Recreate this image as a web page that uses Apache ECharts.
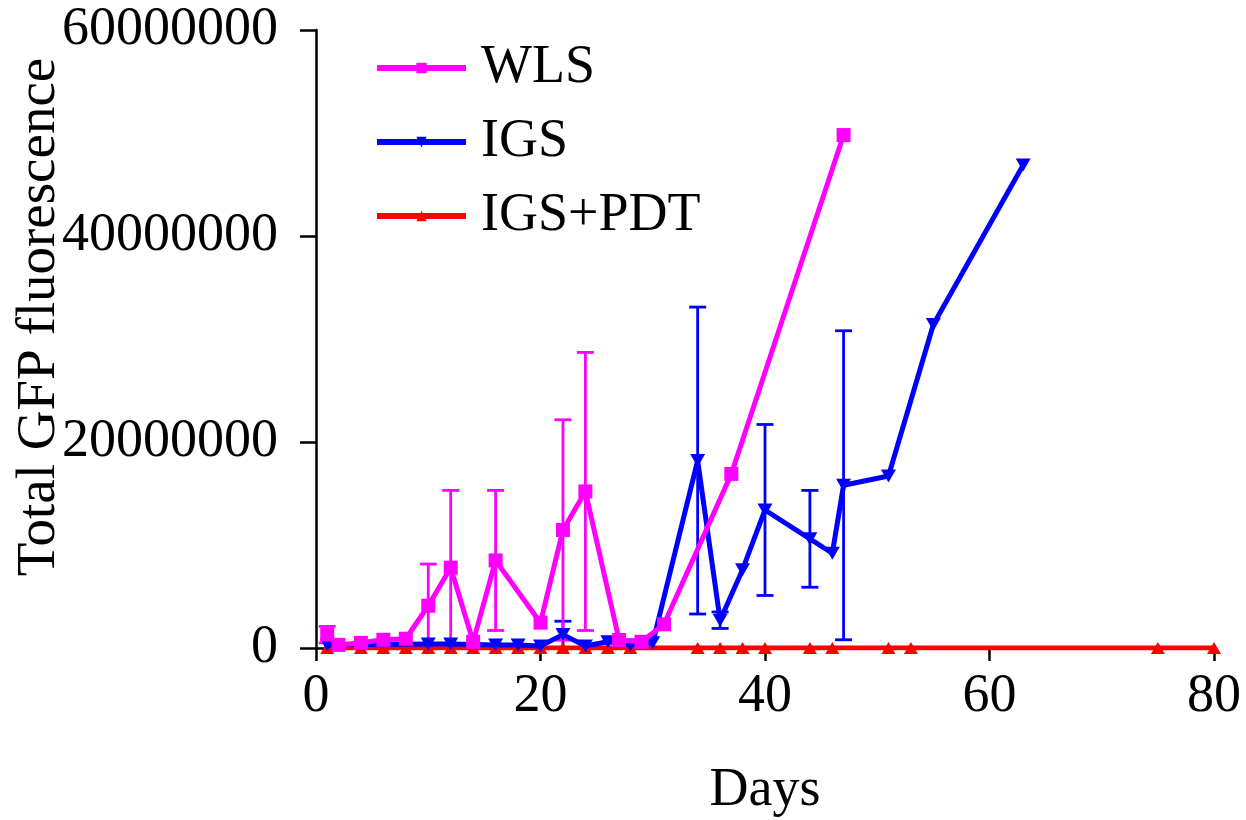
<!DOCTYPE html>
<html>
<head>
<meta charset="utf-8">
<script src="https://cdn.jsdelivr.net/npm/echarts@6/dist/echarts.min.js"></script>
<style>
  html, body { margin: 0; padding: 0; background: #fff; }
  #chart { width: 1246px; height: 820px; }
</style>
</head>
<body>
<div id="chart"></div>
<script>
// values
const wlsDays = [1, 2, 4, 6, 8, 10, 12, 14, 16, 20, 22, 24, 27, 29, 31, 37, 47]
const wlsMean = [1300000, 300000, 500000, 800000, 900000, 4100000, 7800000, 600000, 8500000, 2460000, 11460000, 15200000, 780000, 600000, 2300000, 16900000, 49800000]
const wlsErr = [800000, 0, 0, 0, 0, 4050000, 7500000, 0, 6800000, 0, 10700000, 13500000, 0, 0, 0, 0, 0]

const igsDays = [1, 10, 12, 16, 18, 20, 22, 24, 26, 28, 30, 34, 36, 38, 40, 44, 46, 47, 51, 55, 63]
const igsMean = [300000, 400000, 400000, 300000, 300000, 200000, 1300000, 200000, 600000, 300000, 500000, 18200000, 2700000, 7600000, 13400000, 10600000, 9200000, 15800000, 16700000, 31400000, 46900000]
const igsErr = [0, 0, 0, 0, 0, 0, 1300000, 0, 0, 0, 0, 14900000, 800000, 0, 8300000, 4700000, 0, 15000000, 0, 0, 0]

const pdtDays = [1, 4, 6, 8, 10, 12, 14, 16, 18, 20, 22, 24, 26, 28, 34, 36, 38, 40, 44, 46, 51, 53, 75, 80]
const pdtMean = [0, 0, 0, 0, 0, 0, 0, 0, 0, 0, 0, 0, 0, 0, 0, 0, 0, 0, 0, 0, 0, 0, 0, 0]

const xTicks = { min: 0, max: 80, interval: 20 }
const yTicks = { min: 0, max: 60000000, interval: 20000000 }

const FONT = "'Liberation Serif', 'Times New Roman', serif"
const triDown = 'path://M0,0L10,0L5,9Z'

function pairs(days, vals) {
  return days.map((d, i) => [d, vals[i]])
}

function errData(days, mean, err) {
  const out = []
  days.forEach((d, i) => {
    if (err[i] > 0) out.push([d, mean[i], err[i]])
  })
  return out
}

// error bars with caps, one custom series per group
function errSeries(name, color, data) {
  return {
    name: name,
    type: 'custom',
    data: data,
    z: 3,
    silent: true,
    itemStyle: { color: color },
    renderItem: (params, api) => {
      const x = api.value(0)
      const m = api.value(1)
      const e = api.value(2)
      const top = api.coord([x, m + e])
      const bot = api.coord([x, m - e])
      const w = 8.5
      const style = { stroke: color, lineWidth: 2.8 }
      return {
        type: 'group',
        children: [
          { type: 'line', shape: { x1: top[0], y1: top[1], x2: bot[0], y2: bot[1] }, style },
          { type: 'line', shape: { x1: top[0] - w, y1: top[1], x2: top[0] + w, y2: top[1] }, style },
          { type: 'line', shape: { x1: bot[0] - w, y1: bot[1], x2: bot[0] + w, y2: bot[1] }, style }
        ]
      }
    }
  }
}

const chart = echarts.init(document.getElementById('chart'), null, { renderer: 'canvas' })

chart.setOption({
  animation: false,
  backgroundColor: '#fff',
  grid: { left: 316, right: 32, top: 30, bottom: 172, outerBoundsMode: 'none' },
  legend: {
    orient: 'vertical',
    left: 374,
    top: 41,
    padding: 0,
    itemWidth: 89,
    itemHeight: 13,
    itemGap: 20,
    data: ['WLS', 'IGS', 'IGS+PDT'],
    lineStyle: { width: 6 },
    textStyle: { fontFamily: FONT, fontSize: 54, color: '#000', padding: [0, 0, 0, 10] }
  },
  xAxis: {
    type: 'value',
    min: xTicks.min,
    max: xTicks.max,
    interval: xTicks.interval,
    name: 'Days',
    nameLocation: 'middle',
    nameGap: 116,
    nameTextStyle: { fontFamily: FONT, fontSize: 54, color: '#000' },
    axisLine: { lineStyle: { color: '#000', width: 2.5 } },
    axisTick: { length: 13, lineStyle: { color: '#000', width: 2.5 } },
    axisLabel: { fontFamily: FONT, fontSize: 54, color: '#000', margin: 22 },
    splitLine: { show: false }
  },
  yAxis: {
    type: 'value',
    min: yTicks.min,
    max: yTicks.max,
    interval: yTicks.interval,
    axisLine: { show: true, lineStyle: { color: '#000', width: 2.5 } },
    axisTick: { show: true, length: 16, lineStyle: { color: '#000', width: 2.5 } },
    axisLabel: { fontFamily: FONT, fontSize: 54, color: '#000', margin: 38, formatter: (v) => String(v) },
    splitLine: { show: false }
  },
  graphic: [{
    type: 'text',
    x: 40,
    y: 317,
    rotation: Math.PI / 2,
    style: {
      text: 'Total GFP fluorescence',
      font: '55px ' + FONT,
      fill: '#000',
      align: 'center',
      verticalAlign: 'middle',
      textAlign: 'center',
      textVerticalAlign: 'middle'
    }
  }],
  series: [
    {
      name: 'IGS+PDT',
      type: 'line',
      data: pairs(pdtDays, pdtMean),
      symbol: 'triangle',
      symbolSize: [14, 12],
      itemStyle: { color: '#ff0000' },
      lineStyle: { color: '#ff0000', width: 5 },
      z: 4
    },
    errSeries('IGS error', '#0000ff', errData(igsDays, igsMean, igsErr)),
    {
      name: 'IGS',
      type: 'line',
      data: pairs(igsDays, igsMean),
      symbol: triDown,
      symbolSize: [15, 13],
      itemStyle: { color: '#0000ff' },
      lineStyle: { color: '#0000ff', width: 5 },
      z: 5
    },
    errSeries('WLS error', '#ff00ff', errData(wlsDays, wlsMean, wlsErr)),
    {
      name: 'WLS',
      type: 'line',
      data: pairs(wlsDays, wlsMean),
      symbol: 'rect',
      symbolSize: 14,
      itemStyle: { color: '#ff00ff' },
      lineStyle: { color: '#ff00ff', width: 5 },
      z: 6
    }
  ]
})
</script>
</body>
</html>
